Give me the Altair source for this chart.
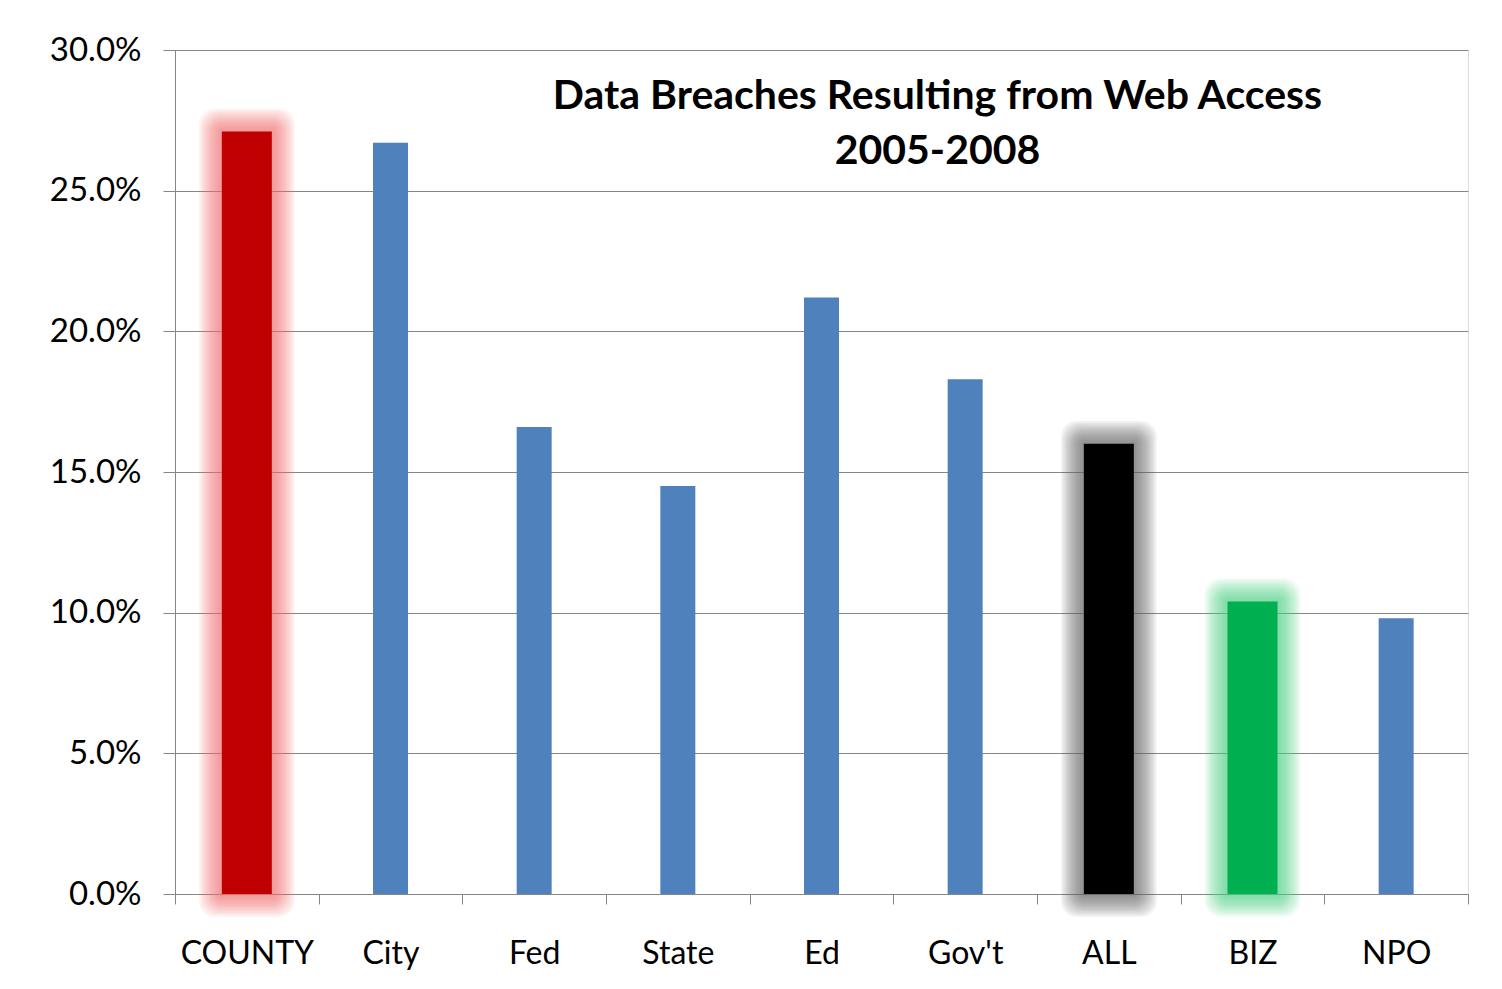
import altair as alt
import pandas as pd

categories = ["COUNTY", "City", "Fed", "State", "Ed", "Gov't", "ALL", "BIZ", "NPO"]
values = [0.271, 0.267, 0.166, 0.145, 0.212, 0.183, 0.160, 0.104, 0.098]
bar_colors = ["#C00000", "#4F81BD", "#4F81BD", "#4F81BD", "#4F81BD", "#4F81BD", "#000000", "#00B050", "#4F81BD"]
highlight = [True, False, False, False, False, False, True, True, False]
glow_colors = ["#F26A6A", "#FFFFFF", "#FFFFFF", "#FFFFFF", "#FFFFFF", "#FFFFFF", "#666666", "#4CD488", "#FFFFFF"]
y_ticks = [0.0, 0.05, 0.10, 0.15, 0.20, 0.25, 0.30]
title_lines = ["Data Breaches Resulting from Web Access", "2005-2008"]

df = pd.DataFrame({
    "cat": categories,
    "val": values,
    "hl": highlight,
    "glow": glow_colors,
})

FONT = "Lato"

x_enc = alt.X(
    "cat:N",
    sort=categories,
    title=None,
    scale=alt.Scale(paddingInner=0, paddingOuter=0),
    axis=alt.Axis(
        labelAngle=0, labelFont=FONT, labelFontSize=32, labelColor="#000000",
        labelPadding=34, tickSize=10, tickColor="#868686", domainColor="#868686",
        tickBand="extent", grid=False, labelLimit=300,
    ),
)
y_enc = alt.Y(
    "val:Q",
    title=None,
    scale=alt.Scale(domain=[0, 0.30], nice=False),
    axis=alt.Axis(
        values=y_ticks, format=".1%", labelFont=FONT, labelFontSize=33,
        labelColor="#000000", labelPadding=22, tickSize=12, tickColor="#868686",
        domainColor="#868686", gridColor="#868686", gridWidth=1,
    ),
)

base = alt.Chart(df)

layers = []
n_glow = 12
for k in range(n_glow, 0, -1):
    e = 1.9 * k
    layers.append(
        base.transform_filter("datum.hl").mark_bar(
            width=50 + 2 * e, yOffset=-e, y2Offset=e, opacity=0.09,
            cornerRadius=min(e, 16),
        ).encode(
            x=x_enc, y=y_enc, y2=alt.datum(0),
            color=alt.Color("glow:N", scale=None),
        )
    )

layers.append(
    base.transform_filter("datum.hl").mark_bar(width=50).encode(
        x=x_enc, y=y_enc,
        color=alt.Color("cat:N", scale=alt.Scale(domain=categories, range=bar_colors), legend=None),
    )
)
layers.append(
    base.transform_filter("!datum.hl").mark_bar(width=35).encode(
        x=x_enc, y=y_enc,
        color=alt.Color("cat:N", scale=alt.Scale(domain=categories, range=bar_colors), legend=None),
    )
)

chart = alt.layer(*layers).properties(
    width=1293,
    height=844,
    autosize=alt.AutoSizeParams(type="none"),
    padding={"left": 167, "top": 42, "right": 26, "bottom": 87},
    title=alt.TitleParams(
        text=title_lines, font=FONT, fontSize=41, fontWeight="bold", color="#000000",
        anchor="middle", dx=116, dy=0, offset=-139, lineHeight=55, orient="top",
    ),
).configure_view(stroke=None).configure(background="#FFFFFF")

chart.save("out.html", embed_options={"renderer": "svg", "actions": False})
